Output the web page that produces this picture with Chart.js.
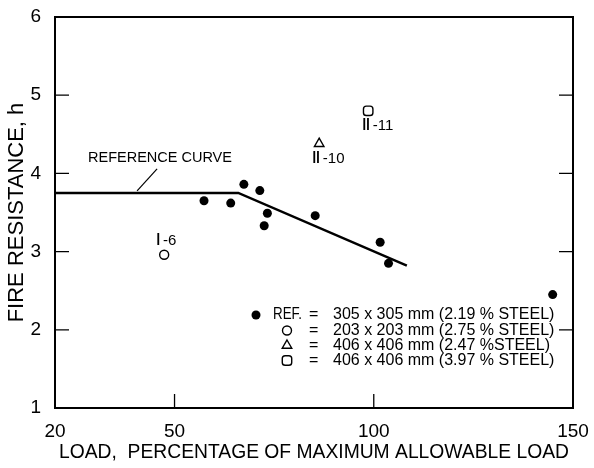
<!DOCTYPE html>
<html>
<head>
<meta charset="utf-8">
<script src="https://cdn.jsdelivr.net/npm/chart.js@4/dist/chart.umd.min.js"></script>
<style>
  html, body { margin: 0; padding: 0; background: #fff; }
  #wrap { width: 594px; height: 468px; }
</style>
</head>
<body>
<div id="wrap"><canvas id="c" width="594" height="468"></canvas></div>
<script>
// Fire resistance of columns vs. applied load
const refLoad  = [57.4, 64.1, 67.4, 71.4, 73.3, 72.5, 85.3, 101.6, 103.7, 144.9];
const refFire  = [3.65, 3.62, 3.86, 3.78, 3.49, 3.33, 3.46, 3.12, 2.85, 2.45];
const sq203Load = [47.4];
const sq203Fire = [2.96];
const sq406aLoad = [86.3];
const sq406aFire = [4.38];
const sq406bLoad = [98.6];
const sq406bFire = [4.80];
const curveLoad = [20, 66.0, 108.3];
const curveFire = [3.75, 3.75, 2.82];
const xTicks = [20, 50, 100, 150];
const yTicks = [1, 2, 3, 4, 5, 6];
const specimenNumeral = ['Ⅰ', 'Ⅱ', 'Ⅱ'];
const specimenNumber  = ['-6', '-10', '-11'];
const legendLabels = [
  '305 x 305 mm (2.19 % STEEL)',
  '203 x 203 mm (2.75 % STEEL)',
  '406 x 406 mm (2.47 %STEEL)',
  '406 x 406 mm (3.97 % STEEL)'
];

const pts = (xs, ys) => xs.map((x, i) => ({ x: x, y: ys[i] }));
const FONT = '"Liberation Sans", Arial, Helvetica, sans-serif';

const markerStyles = [
  { pointStyle: 'circle', radius: 4.5, backgroundColor: '#000', borderColor: '#000', borderWidth: 0 },
  { pointStyle: 'circle', radius: 4.5, backgroundColor: '#fff', borderColor: '#000', borderWidth: 1.4 },
  { pointStyle: 'triangle', radius: 5.5, backgroundColor: '#fff', borderColor: '#000', borderWidth: 1.4 },
  { pointStyle: 'rectRounded', radius: 5.5, backgroundColor: '#fff', borderColor: '#000', borderWidth: 1.4 }
];

function scatterSet(label, data, st) {
  return {
    label: label, data: data, showLine: false,
    pointStyle: st.pointStyle, pointRadius: st.radius, pointHoverRadius: st.radius,
    pointBackgroundColor: st.backgroundColor, pointBorderColor: st.borderColor,
    pointBorderWidth: st.borderWidth
  };
}

// Frame, inward tick marks, annotations and the key
const decorations = {
  id: 'decorations',
  afterDraw(chart) {
    const ctx = chart.ctx;
    const a = chart.chartArea;
    const xs = chart.scales.x, ys = chart.scales.y;
    ctx.save();
    ctx.strokeStyle = '#000';
    ctx.lineWidth = 2;
    ctx.strokeRect(a.left, a.top, a.right - a.left, a.bottom - a.top);

    const tl = 14;
    ctx.lineWidth = 1.3;
    ctx.beginPath();
    yTicks.forEach(v => {
      if (v === yTicks[0] || v === yTicks[yTicks.length - 1]) return;
      const py = ys.getPixelForValue(v);
      ctx.moveTo(a.left, py); ctx.lineTo(a.left + tl, py);
      ctx.moveTo(a.right, py); ctx.lineTo(a.right - tl, py);
    });
    xTicks.forEach(v => {
      if (v === xTicks[0] || v === xTicks[xTicks.length - 1]) return;
      const px = xs.getPixelForValue(v);
      ctx.moveTo(px, a.bottom); ctx.lineTo(px, a.bottom - tl);
    });
    ctx.stroke();

    // reference curve caption with leader line
    ctx.fillStyle = '#000';
    ctx.font = '14.5px ' + FONT;
    ctx.textBaseline = 'middle';
    ctx.textAlign = 'left';
    ctx.fillText('REFERENCE CURVE', 88, 158);
    const lx = xs.getPixelForValue(40.6), ly = ys.getPixelForValue(curveFire[0]);
    ctx.lineWidth = 1.2;
    ctx.beginPath();
    ctx.moveTo(lx, ly - 2);
    ctx.lineTo(lx + 20, ly - 24);
    ctx.stroke();

    // specimen labels (series numeral + test number)
    const specimenSets = [1, 2, 3];
    const offsets = [{ dx: -6, dy: -14 }, { dx: -3, dy: 15 }, { dx: -2, dy: 15 }];
    const stretch = 1.25;
    specimenSets.forEach((di, k) => {
      const el = chart.getDatasetMeta(di).data[0];
      const cx = el.x + offsets[k].dx, cy = el.y + offsets[k].dy;
      ctx.font = '15px "DejaVu Sans"';
      ctx.textAlign = 'center';
      const w = ctx.measureText(specimenNumeral[k]).width * stretch;
      ctx.save();
      ctx.translate(cx, cy);
      ctx.scale(stretch, 1);
      ctx.fillText(specimenNumeral[k], 0, 0);
      ctx.restore();
      ctx.font = '15px ' + FONT;
      ctx.textAlign = 'left';
      ctx.fillText(specimenNumber[k], cx + w / 2 + 2, cy);
    });

    // key
    const rowY = [315, 330.5, 345.5, 360.5];
    ctx.font = '16px ' + FONT;
    ctx.textAlign = 'left';
    rowY.forEach((y, i) => {
      const st = markerStyles[i];
      const sx = i === 0 ? 256 : 287;
      ctx.fillStyle = st.backgroundColor;
      ctx.strokeStyle = st.borderColor;
      ctx.lineWidth = st.borderWidth;
      Chart.helpers.drawPoint(ctx, { pointStyle: st.pointStyle, radius: st.radius, borderWidth: st.borderWidth }, sx, y);
      ctx.fillStyle = '#000';
      if (i === 0) ctx.fillText('REF.', 273, y, 29);
      ctx.fillText('=', 309, y);
      ctx.fillText(legendLabels[i], 333, y);
    });
    ctx.restore();
  }
};

new Chart(document.getElementById('c'), {
  type: 'scatter',
  data: {
    datasets: [
      scatterSet('REF.', pts(refLoad, refFire), markerStyles[0]),
      scatterSet('203', pts(sq203Load, sq203Fire), markerStyles[1]),
      scatterSet('406a', pts(sq406aLoad, sq406aFire), markerStyles[2]),
      scatterSet('406b', pts(sq406bLoad, sq406bFire), markerStyles[3]),
      {
        label: 'REFERENCE CURVE', data: pts(curveLoad, curveFire), showLine: true,
        borderColor: '#000', borderWidth: 2.5, pointRadius: 0, fill: false, tension: 0
      }
    ]
  },
  options: {
    responsive: false,
    animation: false,
    devicePixelRatio: 1,
    layout: { padding: { top: 17, right: 21, left: 0, bottom: 0 } },
    plugins: { legend: { display: false }, tooltip: { enabled: false } },
    scales: {
      x: {
        type: 'linear', min: 20, max: 150,
        afterBuildTicks: s => { s.ticks = xTicks.map(v => ({ value: v })); },
        afterFit: s => { s.height = 60; s.paddingLeft = 0; s.paddingRight = 0; },
        grid: { display: false, drawTicks: false },
        border: { display: false },
        ticks: { color: '#000', font: { family: FONT, size: 19 }, padding: 12.6, maxRotation: 0 },
        title: {
          display: true, text: 'LOAD,  PERCENTAGE OF MAXIMUM ALLOWABLE LOAD',
          color: '#000', font: { family: FONT, size: 19.3 }, padding: { top: 0, bottom: 3.4 }
        }
      },
      y: {
        type: 'linear', min: 1, max: 6,
        afterBuildTicks: s => { s.ticks = yTicks.map(v => ({ value: v })); },
        afterFit: s => { s.width = 55; s.paddingTop = 0; s.paddingBottom = 0; },
        grid: { display: false, drawTicks: false },
        border: { display: false },
        ticks: { color: '#000', font: { family: FONT, size: 19 }, padding: 14 },
        title: {
          display: true, text: 'FIRE RESISTANCE, h',
          color: '#000', font: { family: FONT, size: 22 }, padding: { top: 4, bottom: 0 }
        }
      }
    }
  },
  plugins: [decorations]
});
</script>
</body>
</html>
